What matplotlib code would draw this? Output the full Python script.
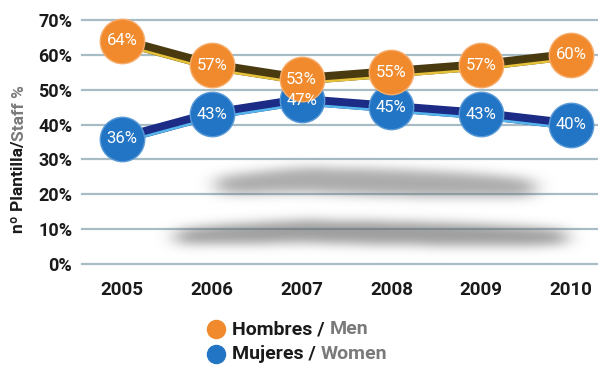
import numpy as np
import matplotlib
matplotlib.use("Agg")
import matplotlib.pyplot as plt
from matplotlib.lines import Line2D
from matplotlib.transforms import offset_copy

plt.rcParams['font.family'] = ['Roboto', 'DejaVu Sans']

# ---- data ----
years = [2005, 2006, 2007, 2008, 2009, 2010]
men = [64, 57, 53, 55, 57, 60]
women = [36, 43, 47, 45, 43, 40]
y_ticks = [0, 10, 20, 30, 40, 50, 60, 70]
legend_es = ["Hombres / ", "Mujeres / "]
legend_en = ["Men", "Women"]
ylabel_parts = ["nº Plantilla/", "Staff %"]

ORANGE = "#f08a2c"
BLUE = "#2274c4"
MEN_DARK = "#4a3a10"
MEN_HI = "#e6c23a"
WOMEN_DARK = "#1b2b86"
WOMEN_HI = "#56b6ec"
GRID = "#a8bcc6"
GREY_TXT = "#7a7a7a"

W, H = 598, 367
fig = plt.figure(figsize=(W / 100, H / 100), dpi=100)
fig.patch.set_facecolor("white")
ax = fig.add_axes([82 / W, 103 / H, 516 / W, 244 / H])
ax.set_facecolor("white")
xlim = (2004.555, 2010.30)
ylim = (0, 70)
ax.set_xlim(*xlim)
ax.set_ylim(*ylim)
for s in ax.spines.values():
    s.set_visible(False)

# horizontal grid
for t in y_ticks:
    ax.axhline(t, color=GRID, lw=1.6, zorder=1, clip_on=False)

ax.set_yticks(y_ticks)
ax.set_yticklabels([f"{t}%" for t in y_ticks], fontsize=13, fontweight="bold", color="#1a1a1a")
ax.set_xticks(years)
ax.set_xticklabels([str(y) for y in years], fontsize=13.5, fontweight="bold", color="#1a1a1a")
ax.tick_params(axis="y", length=0, pad=7)
ax.tick_params(axis="x", length=0, pad=12)

# ---- soft drop shadows beneath the lines ----
nx, ny = 520, 250
gx = np.linspace(xlim[0], xlim[1], nx)
gy = np.linspace(ylim[0], ylim[1], ny)
GX, GY = np.meshgrid(gx, gy)
wv = np.array(women, dtype=float)


def ribbon(x0, x1, centers, half):
    c = np.interp(GX, years, centers)
    t = np.clip((GX - x0) / (x1 - x0), 0, 1)
    taper = np.where((GX >= x0) & (GX <= x1), np.sqrt(np.sin(np.pi * t)), 0)
    return (np.abs(GY - c) < half * (0.5 + 0.5 * taper)) & (taper > 0)


mask = ribbon(2005.6, 2009.95, 0.25 * wv - 2.5, 3.3).astype(float)
mask = np.maximum(mask, 0.85 * ribbon(2006.05, 2009.6, 22.5 + 0.4 * (wv - 43), 3.8).astype(float))


def gblur(a, sigma, axis):
    r = int(3 * sigma)
    k = np.exp(-0.5 * (np.arange(-r, r + 1) / sigma) ** 2)
    k /= k.sum()
    return np.apply_along_axis(lambda v: np.convolve(v, k, mode="same"), axis, a)


soft = gblur(gblur(mask, 5.5, 0), 10.0, 1)
rgba = np.zeros((ny, nx, 4))
rgba[..., :3] = 0.38
rgba[..., 3] = np.clip(soft * 0.62, 0, 1)
ax.imshow(rgba, extent=(xlim[0], xlim[1], ylim[0], ylim[1]), origin="lower",
          aspect="auto", zorder=2, interpolation="bilinear")

# ---- ribbon lines ----
hi_tr = offset_copy(ax.transData, fig=fig, x=0, y=-4, units="dots")
for vals, dark, hi in [(women, WOMEN_DARK, WOMEN_HI), (men, MEN_DARK, MEN_HI)]:
    ax.plot(years, vals, color=dark, lw=7.5, zorder=3, solid_joinstyle="round")
    ax.plot(years, vals, color=hi, lw=1.8, zorder=3.5, transform=hi_tr)

# ---- circle markers ----
ax.plot(years, women, "o", ms=32, mfc=BLUE, mec="#5a9ad6", mew=1, zorder=4, clip_on=False)
ax.plot(years, men, "o", ms=32, mfc=ORANGE, mec="#f6ad6c", mew=1, zorder=4.5, clip_on=False)
for vals in (women, men):
    for x, v in zip(years, vals):
        ax.text(x, v, f"{v}%", ha="center", va="center", color="white",
                fontsize=12, zorder=6)

# ---- two-tone texts ----
fig.canvas.draw()
renderer = fig.canvas.get_renderer()


def two_tone(x, y, first, second, size, rotation=0):
    t1 = fig.text(x, y, first, fontsize=size, fontweight="bold", color="#1a1a1a",
                  rotation=rotation, ha="left" if rotation == 0 else "center",
                  va="center" if rotation == 0 else "bottom")
    bb = t1.get_window_extent(renderer)
    if rotation == 0:
        fig.text(bb.x1 / W, y, second, fontsize=size, fontweight="bold",
                 color=GREY_TXT, ha="left", va="center")
    else:
        fig.text(x, bb.y1 / H, second, fontsize=size, fontweight="bold",
                 color=GREY_TXT, rotation=rotation, ha="center", va="bottom")


two_tone(19 / W, (367 - 233) / H, ylabel_parts[0], ylabel_parts[1], 12.5, rotation=90)

leg_y = [(367 - 329) / H, (367 - 354) / H]
for ly, col, es, en in zip(leg_y, [ORANGE, BLUE], legend_es, legend_en):
    fig.add_artist(Line2D([216 / W], [ly], marker="o", ms=13, color=col,
                          transform=fig.transFigure, linestyle="none"))
    two_tone(232 / W, ly, es, en, 14)

fig.savefig("out.png", dpi=100, facecolor="white")
